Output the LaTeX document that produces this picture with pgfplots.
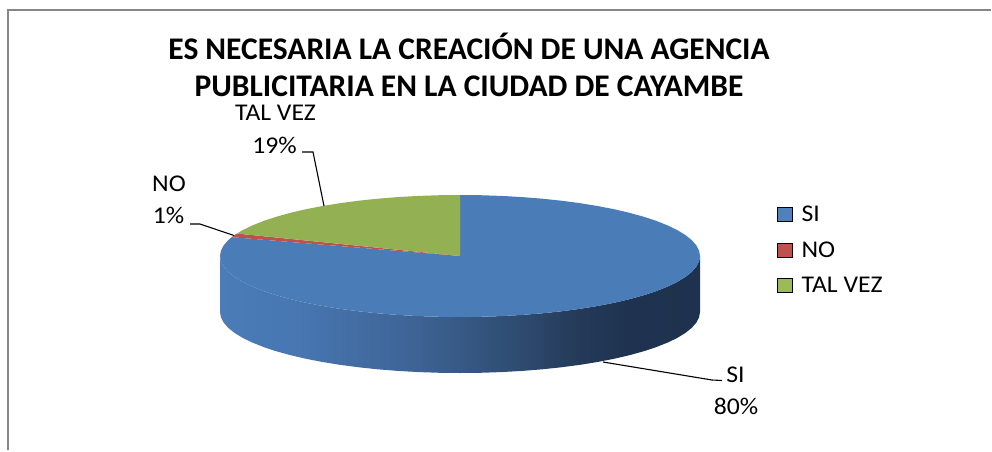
\documentclass[border=0pt]{standalone}
\usepackage{pgfplots}
\pgfplotsset{compat=1.18}
\usepackage{fontspec}
\setmainfont{Carlito}
\newfontfamily\lblfont{Carlito}[FakeStretch=1.07]
\definecolor{siblue}{RGB}{74,125,183}
\definecolor{legblue}{RGB}{79,129,189}
\definecolor{nored}{RGB}{192,80,77}
\definecolor{tvgreen}{RGB}{147,176,82}
\definecolor{leggreen}{RGB}{155,187,89}
\definecolor{framegray}{RGB}{134,134,134}
\pgfdeclarehorizontalshading{pieside}{100bp}{rgb(0bp)=(0.29,0.486,0.725); rgb(25bp)=(0.29,0.486,0.725); rgb(32.5bp)=(0.282,0.467,0.698); rgb(45bp)=(0.243,0.392,0.588); rgb(55bp)=(0.188,0.306,0.455); rgb(62.5bp)=(0.141,0.227,0.345); rgb(67.5bp)=(0.122,0.2,0.314); rgb(75bp)=(0.118,0.192,0.302); rgb(100bp)=(0.118,0.192,0.302)}
\begin{document}
\begin{tikzpicture}
\begin{axis}[x=1pt, y=1pt, xmin=0, xmax=992, ymin=0, ymax=450,
  scale only axis, hide axis, clip=false, no markers,
  legend style={at={(axis cs:777,200)}, anchor=west, draw=none, fill=none,
    font=\lblfont\fontsize{24}{28}\selectfont, inner sep=0pt, row sep=14.5pt,
    cells={anchor=west},
    /tikz/every odd column/.append style={column sep=7pt}},
  legend image code/.code={\fill[#1] (0pt,-7pt) rectangle (15pt,7pt);}]
\path (axis cs:0,0) rectangle (axis cs:992,450);
% frame
\addplot[framegray, line width=2pt, line cap=butt, forget plot] coordinates {(8,0) (8,440) (991,440)};
% side of pie (180 -> 360 top edge, 360 -> 180 bottom edge)
\addplot[draw=none, shade, shading=pieside, forget plot] coordinates {
(220,194) (220.91,188.68) (223.65,183.41) (228.18,178.21) (234.47,173.14) (242.49,168.22)
(252.15,163.5) (263.40,159.01) (276.15,154.79) (290.29,150.87) (305.73,147.27) (322.34,144.03)
(340,141.17) (358.57,138.72) (377.92,136.68) (397.88,135.08) (418.32,133.93) (439.08,133.23)
(460,133) (480.92,133.23) (501.68,133.93) (522.12,135.08) (542.08,136.68) (561.43,138.72)
(580,141.17) (597.66,144.03) (614.27,147.27) (629.71,150.87) (643.85,154.79) (656.60,159.01)
(667.85,163.5) (677.51,168.22) (685.53,173.14) (691.82,178.21) (696.35,183.41) (699.09,188.68)
(700,194) (700,138)
(699.09,132.68) (696.35,127.41) (691.82,122.21) (685.53,117.14) (677.51,112.22) (667.85,107.5)
(656.60,103.01) (643.85,98.79) (629.71,94.87) (614.27,91.27) (597.66,88.03) (580,85.17)
(561.43,82.72) (542.08,80.68) (522.12,79.08) (501.68,77.93) (480.92,77.23) (460,77)
(439.08,77.23) (418.32,77.93) (397.88,79.08) (377.92,80.68) (358.57,82.72) (340,85.17)
(322.34,88.03) (305.73,91.27) (290.29,94.87) (276.15,98.79) (263.40,103.01) (252.15,107.5)
(242.49,112.22) (234.47,117.14) (228.18,122.21) (223.65,127.41) (220.91,132.68) (220,138)
} -- cycle;
% SI 80% (top face)
\addplot[draw=none, fill=siblue, forget plot] coordinates {
(460,194) (231.75,212.85) (228.18,209.79) (223.65,204.59) (220.91,199.32)
(220,194) (220.91,188.68) (223.65,183.41) (228.18,178.21) (234.47,173.14) (242.49,168.22)
(252.15,163.5) (263.40,159.01) (276.15,154.79) (290.29,150.87) (305.73,147.27) (322.34,144.03)
(340,141.17) (358.57,138.72) (377.92,136.68) (397.88,135.08) (418.32,133.93) (439.08,133.23)
(460,133) (480.92,133.23) (501.68,133.93) (522.12,135.08) (542.08,136.68) (561.43,138.72)
(580,141.17) (597.66,144.03) (614.27,147.27) (629.71,150.87) (643.85,154.79) (656.60,159.01)
(667.85,163.5) (677.51,168.22) (685.53,173.14) (691.82,178.21) (696.35,183.41) (699.09,188.68)
(700,194) (699.09,199.32) (696.35,204.59) (691.82,209.79) (685.53,214.86) (677.51,219.78)
(667.85,224.5) (656.60,228.99) (643.85,233.21) (629.71,237.13) (614.27,240.73) (597.66,243.97)
(580,246.83) (561.43,249.28) (542.08,251.32) (522.12,252.92) (501.68,254.07) (480.92,254.77)
(460,255)
} -- cycle;
% NO 1%
\addplot[draw=none, fill=nored, forget plot] coordinates {
(460,194) (236.85,216.46) (234.47,214.86) (231.75,212.85)
} -- cycle;
% TAL VEZ 19%
\addplot[draw=none, fill=tvgreen, forget plot] coordinates {
(460,194) (460,255) (439.08,254.77) (418.32,254.07) (397.88,252.92) (377.92,251.32)
(358.57,249.28) (340,246.83) (322.34,243.97) (305.73,240.73) (290.29,237.13) (276.15,233.21)
(263.40,228.99) (252.15,224.5) (242.49,219.78) (236.85,216.46)
} -- cycle;
% leader lines
\addplot[black, line width=1.1pt, forget plot] coordinates {(302,298) (313,298) (324,244)};
\addplot[black, line width=1.1pt, forget plot] coordinates {(190,226) (200,226) (234,214.5)};
\addplot[black, line width=1.1pt, forget plot] coordinates {(603,88) (712,70) (722,69.5)};
% legend
\addlegendimage{fill=legblue}
\addlegendentry{SI}
\addlegendimage{fill=nored}
\addlegendentry{NO}
\addlegendimage{fill=leggreen}
\addlegendentry{TAL VEZ}
% title
\node[font=\fontsize{31.5}{38}\selectfont\bfseries, anchor=base, inner sep=0pt] at (axis cs:469,391) {ES NECESARIA LA CREACIÓN DE UNA AGENCIA};
\node[font=\fontsize{31.5}{38}\selectfont\bfseries, anchor=base, inner sep=0pt] at (axis cs:469,353.5) {PUBLICITARIA EN LA CIUDAD DE CAYAMBE};
% data labels
\node[font=\lblfont\fontsize{24}{28}\selectfont, anchor=base, inner sep=0pt] at (axis cs:275.5,330) {TAL VEZ};
\node[font=\lblfont\fontsize{24}{28}\selectfont, anchor=base, inner sep=0pt] at (axis cs:274.5,297) {19\%};
\node[font=\lblfont\fontsize{24}{28}\selectfont, anchor=base, inner sep=0pt] at (axis cs:169,258.3) {NO};
\node[font=\lblfont\fontsize{24}{28}\selectfont, anchor=base, inner sep=0pt] at (axis cs:168.5,227) {1\%};
\node[font=\lblfont\fontsize{24}{28}\selectfont, anchor=base, inner sep=0pt] at (axis cs:735.5,67.3) {SI};
\node[font=\lblfont\fontsize{24}{28}\selectfont, anchor=base, inner sep=0pt] at (axis cs:736,36) {80\%};
\end{axis}
\end{tikzpicture}
\end{document}
